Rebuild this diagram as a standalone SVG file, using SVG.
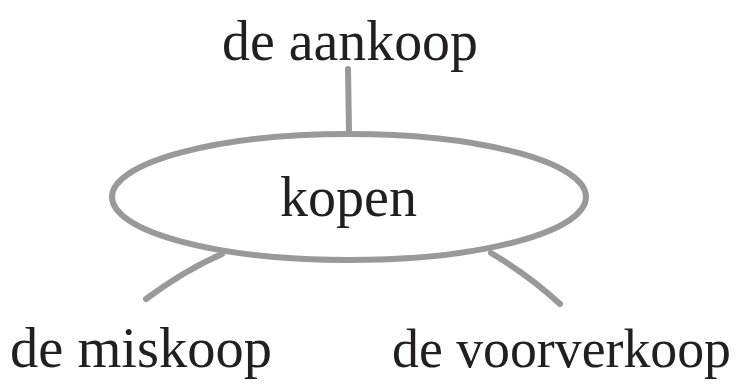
<svg xmlns="http://www.w3.org/2000/svg" width="739" height="385" viewBox="0 0 739 385">
<style>
.lbl{font-family:"Liberation Serif","DejaVu Serif",serif;fill:#231f20}
.stroke{fill:none;stroke:#999;stroke-linecap:round}
</style>
<rect width="739" height="385" fill="#fff"/>
<g id="connectors">
<path class="stroke" d="M348,69 L348.5,100 L349,132" stroke-width="6"/>
<path class="stroke" d="M222,254 Q185,270 146,299" stroke-width="6"/>
<path class="stroke" d="M491,253 Q530,276 560,304" stroke-width="6"/>
</g>
<g id="node-kopen">
<ellipse class="stroke" cx="349" cy="197" rx="237" ry="63" stroke-width="6"/>
<text class="lbl" x="280" y="216" font-size="56" textLength="137" lengthAdjust="spacingAndGlyphs">kopen</text>
</g>
<g id="node-aankoop">
<text class="lbl" x="222" y="60" font-size="58" textLength="256" lengthAdjust="spacingAndGlyphs">de aankoop</text>
</g>
<g id="node-miskoop">
<text class="lbl" x="10" y="367" font-size="56" textLength="262" lengthAdjust="spacingAndGlyphs">de miskoop</text>
</g>
<g id="node-voorverkoop">
<text class="lbl" x="392" y="367" font-size="54" textLength="339" lengthAdjust="spacingAndGlyphs">de voorverkoop</text>
</g>
</svg>
